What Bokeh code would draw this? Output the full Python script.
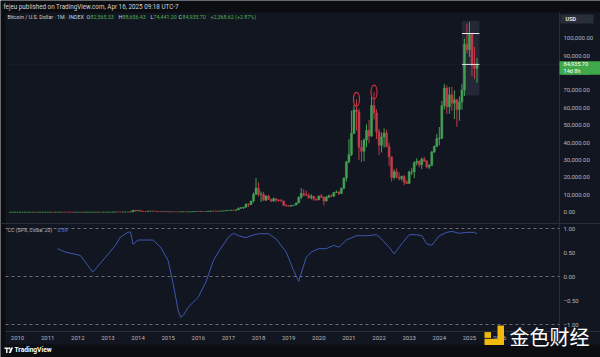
import pandas as pd
from bokeh.plotting import figure
from bokeh.models import Range1d, ColumnDataSource
from bokeh.core.properties import value
from bokeh.embed import file_html
from bokeh.resources import INLINE

# ---------------- data: BTC/USD monthly OHLC, Oct 2009 .. Apr 2025 ----------------
first_month = "2009-10"
open_ = [
    0.0008, 0.001, 0.002,
    0.003, 0.004, 0.005, 0.005, 0.006, 0.008, 0.05, 0.07, 0.06, 0.06, 0.19, 0.21,
    0.30, 0.52, 0.86, 0.78, 3.5, 8.7, 16.1, 13.4, 8.2, 5.1, 3.2, 3.0,
    4.7, 5.5, 4.9, 4.9, 5.0, 5.2, 6.7, 9.4, 10.2, 12.4, 11.2, 12.6,
    13.5, 20.4, 33.4, 93, 139, 129, 97, 106, 135, 133, 204, 1129,
    754, 939, 573, 458, 448, 628, 641, 586, 478, 387, 338, 378,
    320, 217, 254, 244, 236, 230, 263, 285, 230, 236, 314, 378,
    430, 369, 437, 416, 448, 531, 673, 624, 575, 609, 700, 742,
    963, 970, 1190, 1080, 1350, 2300, 2480, 2875, 4700, 4340, 6470, 10230,
    13860, 10220, 10330, 6930, 9240, 7500, 6400, 7730, 7030, 6630, 6370, 4040,
    3740, 3460, 3810, 4100, 5320, 8560, 10800, 10080, 9600, 8300, 9150, 7540,
    7190, 9350, 8540, 6420, 8620, 9450, 9140, 11350, 11650, 10780, 13800, 19700,
    28990, 33100, 45240, 58800, 57750, 37300, 35040, 41460, 47100, 43790, 61300, 57000,
    46200, 38480, 43180, 45540, 37650, 31800, 19930, 23300, 20050, 19430, 20490, 17160,
    16540, 23130, 23140, 28470, 29250, 27220, 30480, 29230, 25940, 26970, 34660, 37720,
    42280, 42580, 61130, 71330, 60640, 67490, 62680, 64620, 58970, 63330, 70220, 96450,
    93430, 102400, 84370, 82565.33,
]
high = [
    0.001, 0.002, 0.003,
    0.004, 0.005, 0.006, 0.007, 0.009, 0.01, 0.1, 0.07, 0.17, 0.2, 0.5, 0.3,
    0.95, 1.1, 0.99, 3.9, 8.9, 31.9, 16.2, 13.8, 8.9, 5.2, 3.6, 4.9,
    7.2, 6.5, 5.4, 5.3, 5.2, 7.1, 9.7, 16.4, 12.6, 13.6, 13.0, 13.9,
    20.4, 33.8, 94, 266, 139, 129, 110, 140, 140, 215, 1242, 1163,
    1022, 939, 718, 546, 631, 683, 651, 619, 491, 415, 457, 384,
    320, 262, 300, 260, 248, 266, 315, 285, 244, 334, 500, 466,
    465, 444, 436, 467, 539, 778, 680, 612, 615, 716, 755, 979,
    1190, 1203, 1280, 1430, 2760, 2980, 2925, 4920, 4980, 6470, 11400, 19660,
    17240, 11900, 11680, 9750, 9960, 7780, 8500, 7800, 7390, 7650, 6600, 4400,
    4100, 4200, 4100, 5640, 9100, 13880, 13150, 12340, 10930, 10370, 9520, 7750,
    9580, 10500, 9200, 9460, 10070, 10370, 11430, 12470, 12050, 14100, 19900, 29300,
    41950, 58350, 61800, 64900, 59500, 41300, 42400, 50500, 52900, 67000, 69000, 59100,
    47900, 45800, 48200, 47400, 40000, 31900, 24700, 25200, 22800, 21000, 21450, 18400,
    23950, 25250, 29200, 31000, 29850, 31400, 31800, 30000, 27500, 35200, 38400, 45000,
    48970, 64000, 73800, 72800, 71950, 72000, 70000, 65100, 66500, 73600, 99650, 108350,
    109350, 102750, 95000, 88656.43,
]
low = [
    0.0008, 0.001, 0.002,
    0.003, 0.004, 0.005, 0.005, 0.006, 0.008, 0.05, 0.06, 0.06, 0.06, 0.19, 0.17,
    0.29, 0.5, 0.72, 0.56, 2.7, 8.7, 12.8, 6.9, 4.1, 2.0, 2.0, 2.8,
    4.6, 4.1, 4.6, 4.7, 4.9, 5.2, 6.5, 7.1, 9.6, 9.9, 10.4, 12.5,
    13.3, 19.6, 33, 50, 80, 77, 65, 97, 118, 122, 200, 382,
    754, 414, 450, 339, 425, 545, 556, 445, 364, 275, 315, 309,
    152, 212, 235, 217, 230, 218, 260, 198, 227, 236, 298, 350,
    351, 366, 398, 414, 443, 525, 470, 466, 597, 606, 686, 744,
    751, 915, 890, 1060, 1320, 2080, 1830, 2700, 2980, 4130, 5520, 10830,
    9060, 5870, 6430, 6430, 7050, 5790, 6070, 5880, 6140, 6200, 3500, 3120,
    3380, 3360, 3750, 4090, 5350, 7450, 9070, 9340, 7700, 7300, 6520, 6430,
    6870, 8450, 3860, 6150, 8120, 8830, 8990, 11150, 9880, 10380, 13200, 17600,
    28130, 32300, 44900, 47000, 30000, 28800, 29300, 37300, 39600, 43300, 53250, 42000,
    32900, 34300, 37100, 37600, 26700, 17600, 18800, 19600, 18150, 18200, 15470, 16300,
    16500, 21400, 19550, 26900, 25850, 24750, 28900, 25150, 24900, 26550, 34100, 37600,
    38500, 41900, 59000, 56500, 56550, 58400, 53500, 49050, 52550, 58900, 66800, 91300,
    89200, 78200, 76600, 74441.20,
]
close = [
    0.001, 0.002, 0.003,
    0.004, 0.005, 0.005, 0.006, 0.008, 0.05, 0.07, 0.06, 0.06, 0.19, 0.21, 0.30,
    0.52, 0.86, 0.78, 3.5, 8.7, 16.1, 13.4, 8.2, 5.1, 3.2, 3.0, 4.7,
    5.5, 4.9, 4.9, 5.0, 5.2, 6.7, 9.4, 10.2, 12.4, 11.2, 12.6, 13.5,
    20.4, 33.4, 93, 139, 129, 97, 106, 135, 133, 204, 1129, 754,
    939, 573, 458, 448, 628, 641, 586, 478, 387, 338, 378, 320,
    217, 254, 244, 236, 230, 263, 285, 230, 236, 314, 378, 430,
    369, 437, 416, 448, 531, 673, 624, 575, 609, 700, 742, 963,
    970, 1190, 1080, 1350, 2300, 2480, 2875, 4700, 4340, 6470, 10230, 13860,
    10220, 10330, 6930, 9240, 7500, 6400, 7730, 7030, 6630, 6370, 4040, 3740,
    3460, 3810, 4100, 5320, 8560, 10800, 10080, 9600, 8300, 9150, 7540, 7190,
    9350, 8540, 6420, 8620, 9450, 9140, 11350, 11650, 10780, 13800, 19700, 28990,
    33100, 45240, 58800, 57750, 37300, 35040, 41460, 47100, 43790, 61300, 57000, 46200,
    38480, 43180, 45540, 37650, 31800, 19930, 23300, 20050, 19430, 20490, 17160, 16540,
    23130, 23140, 28470, 29250, 27220, 30480, 29230, 25940, 26970, 34660, 37720, 42280,
    42580, 61130, 71330, 60640, 67490, 62680, 64620, 58970, 63330, 70220, 96450, 93430,
    102400, 84370, 82567.08, 84935.70,
]

# correlation coefficient BTC vs SPX (close, 20)
cc_months = ["2011-05", "2011-08", "2012-02", "2012-07", "2012-12", "2013-04", "2013-06",
             "2013-09", "2013-10", "2013-11", "2014-01", "2014-07", "2014-10", "2015-01",
             "2015-03", "2015-05", "2015-06", "2015-07", "2015-09", "2016-01", "2016-04",
             "2016-07", "2016-09", "2017-01", "2017-03", "2017-05", "2017-08", "2017-10",
             "2018-01", "2018-05", "2018-08", "2018-12", "2019-03", "2019-05", "2019-08",
             "2019-10", "2020-01", "2020-04", "2020-07", "2020-09", "2020-12", "2021-04",
             "2021-08", "2021-12", "2022-02", "2022-05", "2022-07", "2022-10", "2023-01",
             "2023-04", "2023-06", "2023-08", "2023-10", "2024-01", "2024-04", "2024-06",
             "2024-09", "2024-12", "2025-03", "2025-04"]
cc_values = [0.58, 0.51, 0.44, 0.09, 0.40, 0.65, 0.82,
             0.92, 0.93, 0.67, 0.76, 0.76, 0.61, 0.33,
             -0.15, -0.71, -0.85, -0.81, -0.64, -0.43, -0.12,
             0.33, 0.51, 0.82, 0.90, 0.85, 0.81, 0.85,
             0.89, 0.89, 0.78, 0.51, 0.12, -0.10, 0.40,
             0.51, 0.58, 0.58, 0.65, 0.61, 0.76, 0.85,
             0.85, 0.87, 0.78, 0.61, 0.47, 0.68, 0.87,
             0.87, 0.85, 0.68, 0.65, 0.85, 0.92, 0.94,
             0.90, 0.92, 0.92, 0.89]

year_ticks = list(range(2010, 2027))
price_ticks = [0, 10000, 20000, 30000, 40000, 50000, 60000, 70000, 80000, 90000, 100000]
cc_ticks = [1.0, 0.5, 0.0, -0.5, -1.0]
cc_levels = [1.0, 0.0, -1.0]
circled_months = ["2021-04", "2021-11"]
range_box_months = ["2024-10", "2025-05"]
range_box_prices = [67000, 110000]
range_level_price = 102700
countdown = "14d 8h"
currency = "USD"

# ---------------- layout constants (pixels) ----------------
W, H = 600, 357
PX_PER_YEAR = 30.13
X_START = 2010 - 17 / PX_PER_YEAR      # year at canvas x = 0
AXIS_X = 559                           # left edge of the price scale


def px2x(px):
    return X_START + px / PX_PER_YEAR


def price_at(py):           # canvas y -> price (main pane scale)
    return (211.7 - py) * 10000 / 17.4


def cc_at(py):              # canvas y -> correlation value (lower pane scale)
    return (276 - py) / 48.0


def m2x(m):
    y, mo = m.split("-")
    return int(y) + (int(mo) - 1) / 12


PRICE_PER_PX = 10000 / 17.4

BG = "#121620"
DARK = "#0c0d10"
SEP = "#2a2e39"
TXT = "#b2b5be"
LTXT = "#d1d4dc"
UP = "#44a052"
DOWN = "#c23a4b"
GTXT = "#4caf50"
FONT = "Roboto"

months = pd.period_range(first_month, periods=len(close), freq="M")
month_names = [str(m) for m in months]
xs = [p.year + (p.month - 1) / 12 for p in months]
cols = [UP if c >= o else DOWN for o, c in zip(open_, close)]
src = ColumnDataSource(dict(x=xs, o=open_, h=high, l=low, c=close,
                            top=[max(o, c) for o, c in zip(open_, close)],
                            bot=[min(o, c) for o, c in zip(open_, close)],
                            col=cols))

p = figure(width=W, height=H, x_range=Range1d(px2x(0), px2x(W)),
           y_range=Range1d(price_at(H), price_at(0)),
           x_axis_location=None, y_axis_location=None, output_backend="svg",
           toolbar_location=None, min_border=0, background_fill_color=BG,
           border_fill_color=BG, outline_line_color=None)
p.grid.visible = False
p.extra_y_ranges = {"cc": Range1d(cc_at(H), cc_at(0)), "px": Range1d(H, 0)}
p.extra_x_ranges = {"pxx": Range1d(0, W)}

PX = dict(x_range_name="pxx", y_range_name="px")

# ---- frame decorations: dark header / footer / left strip, pane separators ----
p.quad(left=[0, 0, 0], right=[W, W, 5], top=[0, 344, 12], bottom=[12, H, 344],
       fill_color=DARK, line_color=None, **PX)
p.segment(x0=[AXIS_X, 0, 5], y0=[12, 223, 331], x1=[AXIS_X, W, W], y1=[344, 223, 331],
          line_color=SEP, line_width=1, **PX)

# ---- header line ----
p.text(x=[3], y=[6.3], text=["fejeu published on TradingView.com, Apr 16, 2025 09:18 UTC-7"],
       text_color=LTXT, text_font_size="6.3px", text_font=value(FONT),
       text_baseline="middle", **PX)

# ---- main pane ----
bx0, bx1 = m2x(range_box_months[0]), m2x(range_box_months[1])
p.quad(left=[bx0], right=[bx1], bottom=[range_box_prices[0]], top=[range_box_prices[1]],
       fill_color="#5a6b86", fill_alpha=0.22, line_color=None)
p.segment(x0=[px2x(5)], y0=[close[-1]], x1=[px2x(AXIS_X)], y1=[close[-1]],
          line_color="#3f8a4c", line_alpha=0.22, line_dash="1 2", line_width=1)

p.segment(x0="x", y0="h", x1="x", y1="l", color="col", line_width=1, source=src)
p.vbar(x="x", width=0.066, top="top", bottom="bot", fill_color="col", line_color="col",
       line_width=0.5, source=src)

p.segment(x0=[bx0, bx0], y0=[range_level_price, close[-1]], x1=[bx1, bx1],
          y1=[range_level_price, close[-1]], color="#e8e8e8", line_width=1)

ex = [m2x(m) for m in circled_months]
ey = [high[month_names.index(m)] for m in circled_months]
p.ellipse(x=ex, y=ey, width=0.2, height=8000, fill_color=None, line_color="#d0303f",
          line_width=1.2)

# legend line of the main pane
lx = [7, 86, 90, 118, 122, 150, 153, 178, 182, 210]
chg = close[-1] - close[-2]
pct = chg / close[-2] * 100
ltxt = ["Bitcoin / U.S. Dollar · 1M · INDEX", "O", f"{open_[-1]:,.2f}", "H", f"{high[-1]:,.2f}",
        "L", f"{low[-1]:,.2f}", "C", f"{close[-1]:,.2f}", f"+{chg:,.2f} (+{pct:.2f}%)"]
lcol = [LTXT, LTXT, GTXT, LTXT, GTXT, LTXT, GTXT, LTXT, GTXT, GTXT]
p.text(x=lx, y=[16.8] * len(lx), text=ltxt, text_color=lcol,
       text_font_size="5.3px", text_font=value(FONT), text_baseline="middle", **PX)

# price scale (right)
p.text(x=[563] * len(price_ticks), y=price_ticks, text=[f"{v:,.2f}" for v in price_ticks],
       text_color=TXT, text_font_size="6px", text_font=value(FONT),
       text_baseline="middle", x_range_name="pxx")
p.quad(left=[560], right=[593], top=[14], bottom=[23], fill_color="#2a2e39",
       line_color=None, **PX)
p.text(x=[565], y=[18.7], text=[currency], text_color="#e0e3eb", text_font_size="5.5px",
       text_font=value(FONT), text_font_style="bold", text_baseline="middle", **PX)
p.quad(left=[AXIS_X], right=[W], top=[close[-1] + 3.2 * PRICE_PER_PX],
       bottom=[close[-1] - 10.4 * PRICE_PER_PX], fill_color="#3fa84a", line_color=None,
       x_range_name="pxx")
p.text(x=[563, 563], y=[close[-1], close[-1] - 7 * PRICE_PER_PX],
       text=[f"{close[-1]:,.2f}", countdown], text_color="#ffffff", text_font_size="5.6px",
       text_font=value(FONT), text_baseline="middle", x_range_name="pxx")

# ---- CC pane ----
for lv in cc_levels:
    p.segment(x0=[px2x(5)], y0=[lv], x1=[px2x(AXIS_X)], y1=[lv], line_color="#6a6d78",
              line_dash="3 3", line_width=1, y_range_name="cc")
p.line(x=[m2x(m) for m in cc_months], y=cc_values, line_color="#3d57b0", line_width=1,
       y_range_name="cc")
p.text(x=[7, 57], y=[229, 229], text=["CC (SPX, close, 20)", f"{cc_values[-1]:.2f}"],
       text_color=[TXT, "#5b7cf0"], text_font_size="5.3px", text_font=value(FONT),
       text_baseline="middle", **PX)
p.text(x=[563] * len(cc_ticks), y=cc_ticks,
       text=[f"{v:.2f}".replace("-", "\u2212") for v in cc_ticks],
       text_color=TXT, text_font_size="6px", text_font=value(FONT),
       text_baseline="middle", x_range_name="pxx", y_range_name="cc")

# time scale
p.text(x=year_ticks, y=[337.5] * len(year_ticks), text=[str(v) for v in year_ticks],
       text_color=TXT, text_font_size="6px", text_font=value(FONT), text_align="center",
       text_baseline="middle", y_range_name="px")

# ---- footer: TradingView mark ----
p.quad(left=[4, 5.6], right=[7.6, 7.0], top=[347, 348.6], bottom=[348.6, 352.4],
       fill_color="#ffffff", line_color=None, **PX)
p.scatter(x=[8.8], y=[347.9], size=2.2, fill_color="#ffffff", line_color=None, **PX)
p.patch(x=[8.2, 10.2, 12.6, 10.6], y=[352.4, 352.4, 347, 347], fill_color="#ffffff",
        line_color=None, **PX)
p.text(x=[14], y=[349.8], text=["TradingView"], text_color="#ffffff", text_font_size="6.6px",
       text_font=value(FONT), text_font_style="bold", text_baseline="middle", **PX)

# ---- watermark ----
p.quad(left=[497, 484, 484], right=[503.5, 503.5, 490.5], top=[325, 338.3, 331.6],
       bottom=[344.5, 344.5, 337.4], fill_color="#f0b90b", line_color=None, **PX)
p.text(x=[509], y=[336], text=["金色财经"], text_color="#ffffff", text_font_size="20px",
       text_font=value("Noto Sans CJK SC"), text_baseline="middle", **PX)

open("out.html", "w").write(file_html(p, INLINE))
